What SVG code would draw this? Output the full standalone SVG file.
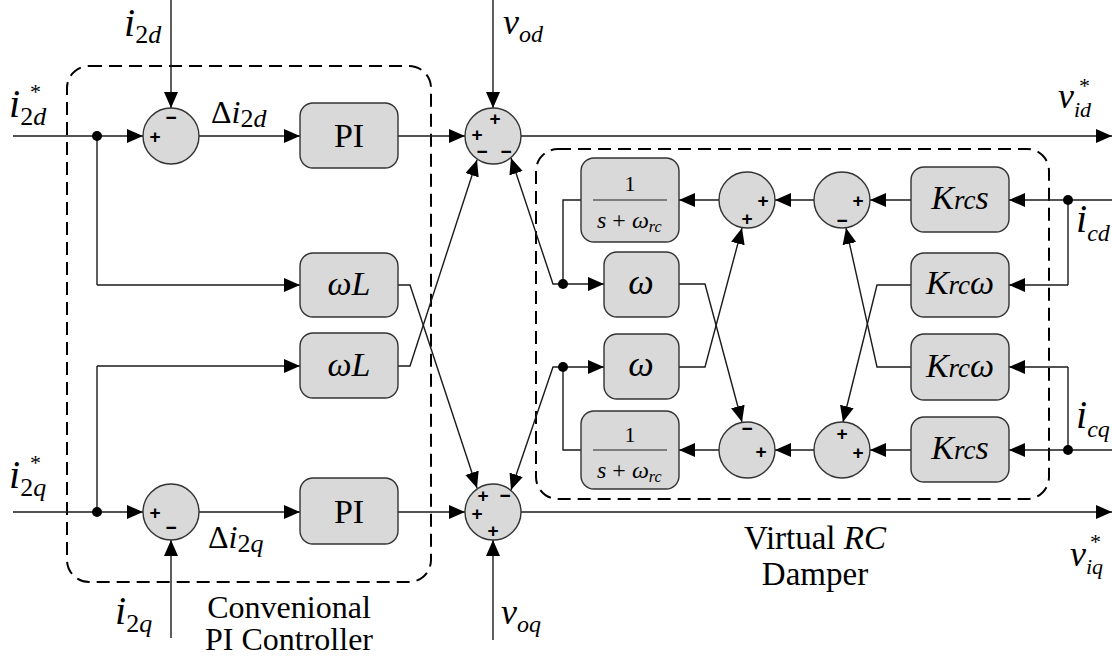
<svg xmlns="http://www.w3.org/2000/svg" width="1112" height="663" viewBox="0 0 1112 663">
<defs>
<marker id="ar" markerUnits="userSpaceOnUse" markerWidth="18" markerHeight="14" refX="16" refY="7" orient="auto">
<path d="M0,0 L16,7 L0,14 Z" fill="#000"/>
</marker>
</defs>

<!-- dashed grouping boxes -->
<g id="group-pi">
<rect x="67" y="66" width="364" height="516" rx="22" fill="none" stroke="#000" stroke-width="2" stroke-dasharray="13 7"/>
<text text-anchor="middle" x="289" y="618" font-family="Liberation Serif" style="font-family:'Liberation Serif',serif" font-size="32">Convenional</text>
<text text-anchor="middle" x="289" y="650" font-family="Liberation Serif" style="font-family:'Liberation Serif',serif" font-size="32">PI Controller</text>
</g>
<g id="group-rc">
<rect x="536" y="149" width="513" height="350" rx="22" fill="none" stroke="#000" stroke-width="2" stroke-dasharray="13 7"/>
<text text-anchor="middle" x="815" y="549" font-family="Liberation Serif" style="font-family:'Liberation Serif',serif" font-size="33">Virtual <tspan font-style="italic">RC</tspan></text>
<text text-anchor="middle" x="815" y="585" font-family="Liberation Serif" style="font-family:'Liberation Serif',serif" font-size="33">Damper</text>
</g>

<!-- connectors -->
<g id="connectors" fill="none" stroke="#1a1a1a" stroke-width="1.4">
<g marker-end="url(#ar)">
<path d="M13,136 H143"/>
<path d="M97,285 H300"/>
<path d="M171,0 V108"/>
<path d="M199,136 H300"/>
<path d="M398,136 H465"/>
<path d="M493,0 V108"/>
<path d="M521,136 H1112"/>
<path d="M13,512 H143"/>
<path d="M97,366 H300"/>
<path d="M171,638 V540"/>
<path d="M199,512 H300"/>
<path d="M398,512 H465"/>
<path d="M493,640 V540"/>
<path d="M521,512 H1112"/>
<path d="M398,285 H410 L477,488"/>
<path d="M398,366 H410 L477,160"/>
<path d="M563,284 H553 L511,158"/>
<path d="M563,367 H553 L511,490"/>
<path d="M1112,200 H1009"/>
<path d="M1068,285 H1009"/>
<path d="M911,200 H870"/>
<path d="M814,200 H775"/>
<path d="M719,200 H679"/>
<path d="M563,284 H604"/>
<path d="M1112,450 H1009"/>
<path d="M1068,367 H1009"/>
<path d="M911,450 H870"/>
<path d="M814,450 H775"/>
<path d="M719,450 H679"/>
<path d="M563,367 H604"/>
<path d="M679,284 H705 L742,422"/>
<path d="M679,367 H705 L742,228"/>
<path d="M911,285 H877 L843,422"/>
<path d="M911,367 H877 L846,228"/>
</g>
<path d="M97,136 V285"/>
<path d="M97,512 V366"/>
<path d="M1068,200 V285"/>
<path d="M581,200 H563 V284"/>
<path d="M1068,450 V367"/>
<path d="M581,450 H563 V367"/>
<g fill="#000" stroke="none">
<circle cx="97" cy="136" r="5"/>
<circle cx="97" cy="512" r="5"/>
<circle cx="563" cy="284" r="5"/>
<circle cx="563" cy="367" r="5"/>
<circle cx="1068" cy="200" r="5"/>
<circle cx="1068" cy="450" r="5"/>
</g>
</g>

<!-- summing junctions -->
<g font-family="Liberation Sans" style="font-family:'Liberation Sans',sans-serif" font-size="19" font-weight="bold" text-anchor="middle">
<g id="sum-l1"><circle cx="171" cy="136" r="28" fill="#d9d9d9" stroke="#333" stroke-width="1.4"/>
<text x="155" y="143">+</text><text x="171" y="124">−</text></g>
<g id="sum-l2"><circle cx="171" cy="512" r="28" fill="#d9d9d9" stroke="#333" stroke-width="1.4"/>
<text x="155" y="519">+</text><text x="171" y="534">−</text></g>
<g id="sum-d"><circle cx="493" cy="136" r="28" fill="#d9d9d9" stroke="#333" stroke-width="1.4"/>
<text x="495" y="125">+</text><text x="477" y="141">+</text>
<text x="482" y="158">−</text><text x="506" y="158">−</text></g>
<g id="sum-q"><circle cx="493" cy="512" r="28" fill="#d9d9d9" stroke="#333" stroke-width="1.4"/>
<text x="483" y="502">+</text><text x="505" y="502">−</text>
<text x="477" y="520">+</text><text x="493" y="537">+</text></g>
<g id="sum-r1"><circle cx="747" cy="200" r="28" fill="#d9d9d9" stroke="#333" stroke-width="1.4"/>
<text x="763" y="207">+</text><text x="747" y="225">+</text></g>
<g id="sum-r2"><circle cx="842" cy="200" r="28" fill="#d9d9d9" stroke="#333" stroke-width="1.4"/>
<text x="858" y="207">+</text><text x="842" y="227">−</text></g>
<g id="sum-r3"><circle cx="747" cy="450" r="28" fill="#d9d9d9" stroke="#333" stroke-width="1.4"/>
<text x="747" y="435">−</text><text x="761" y="458">+</text></g>
<g id="sum-r4"><circle cx="842" cy="450" r="28" fill="#d9d9d9" stroke="#333" stroke-width="1.4"/>
<text x="842" y="440">+</text><text x="858" y="459">+</text></g>
</g>

<!-- blocks -->
<g font-family="Liberation Serif" style="font-family:'Liberation Serif',serif">
<g id="pi-d"><rect x="300" y="103" width="98" height="65" rx="13" fill="#d9d9d9" stroke="#333" stroke-width="1.4"/>
<text text-anchor="middle" x="349" y="147" font-size="34" style="font-family:'Liberation Serif',serif">PI</text></g>
<g id="pi-q"><rect x="300" y="478" width="98" height="66" rx="13" fill="#d9d9d9" stroke="#333" stroke-width="1.4"/>
<text text-anchor="middle" x="349" y="523" font-size="34" style="font-family:'Liberation Serif',serif">PI</text></g>
<g id="wl-d"><rect x="300" y="253" width="98" height="64" rx="13" fill="#d9d9d9" stroke="#333" stroke-width="1.4"/>
<text text-anchor="middle" font-style="italic" x="349" y="295" font-size="34" style="font-family:'Liberation Serif',serif">ωL</text></g>
<g id="wl-q"><rect x="300" y="333" width="98" height="65" rx="13" fill="#d9d9d9" stroke="#333" stroke-width="1.4"/>
<text text-anchor="middle" font-style="italic" x="349" y="376" font-size="34" style="font-family:'Liberation Serif',serif">ωL</text></g>
<g id="lp-d"><rect x="581" y="158" width="98" height="84" rx="13" fill="#d9d9d9" stroke="#333" stroke-width="1.4"/>
<text text-anchor="middle" x="630" y="191" font-size="22" style="font-family:'Liberation Serif',serif">1</text>
<line x1="593" y1="200" x2="667" y2="200" stroke="#222" stroke-width="1.2"/>
<text font-style="italic" x="597" y="228" font-size="24" style="font-family:'Liberation Serif',serif">s<tspan font-style="normal"> + </tspan>ω<tspan font-size="16" dy="4">rc</tspan></text></g>
<g id="lp-q"><rect x="581" y="411" width="98" height="78" rx="13" fill="#d9d9d9" stroke="#333" stroke-width="1.4"/>
<text text-anchor="middle" x="630" y="442" font-size="22" style="font-family:'Liberation Serif',serif">1</text>
<line x1="593" y1="450" x2="667" y2="450" stroke="#222" stroke-width="1.2"/>
<text font-style="italic" x="597" y="478" font-size="24" style="font-family:'Liberation Serif',serif">s<tspan font-style="normal"> + </tspan>ω<tspan font-size="16" dy="4">rc</tspan></text></g>
<g id="w-d"><rect x="604" y="252" width="75" height="65" rx="13" fill="#d9d9d9" stroke="#333" stroke-width="1.4"/>
<text text-anchor="middle" font-style="italic" x="641" y="294" font-size="36" style="font-family:'Liberation Serif',serif">ω</text></g>
<g id="w-q"><rect x="604" y="334" width="75" height="65" rx="13" fill="#d9d9d9" stroke="#333" stroke-width="1.4"/>
<text text-anchor="middle" font-style="italic" x="641" y="376" font-size="36" style="font-family:'Liberation Serif',serif">ω</text></g>
<g id="krcs-d"><rect x="911" y="167" width="98" height="65" rx="13" fill="#d9d9d9" stroke="#333" stroke-width="1.4"/>
<text text-anchor="middle" font-style="italic" x="960" y="209" font-size="34" style="font-family:'Liberation Serif',serif">K<tspan font-size="27">rc</tspan>s</text></g>
<g id="krcw-d"><rect x="911" y="253" width="98" height="64" rx="13" fill="#d9d9d9" stroke="#333" stroke-width="1.4"/>
<text text-anchor="middle" font-style="italic" x="960" y="294" font-size="34" style="font-family:'Liberation Serif',serif">K<tspan font-size="27">rc</tspan>ω</text></g>
<g id="krcw-q"><rect x="911" y="334" width="98" height="66" rx="13" fill="#d9d9d9" stroke="#333" stroke-width="1.4"/>
<text text-anchor="middle" font-style="italic" x="960" y="377" font-size="34" style="font-family:'Liberation Serif',serif">K<tspan font-size="27">rc</tspan>ω</text></g>
<g id="krcs-q"><rect x="911" y="417" width="98" height="65" rx="13" fill="#d9d9d9" stroke="#333" stroke-width="1.4"/>
<text text-anchor="middle" font-style="italic" x="960" y="459" font-size="34" style="font-family:'Liberation Serif',serif">K<tspan font-size="27">rc</tspan>s</text></g>
</g>

<!-- signal labels -->
<g id="labels" font-family="Liberation Serif" style="font-family:'Liberation Serif',serif">
<text font-style="italic" x="124" y="36" font-size="40" style="font-family:'Liberation Serif',serif">i<tspan font-size="26" font-style="normal" dy="7">2</tspan><tspan font-size="26">d</tspan></text>
<text font-style="italic" x="9" y="117" font-size="40" style="font-family:'Liberation Serif',serif">i<tspan font-size="26" font-style="normal" dy="8">2</tspan><tspan font-size="26">d</tspan></text>
<text x="30" y="99" font-size="22" style="font-family:'Liberation Serif',serif">*</text>
<text font-style="italic" x="211" y="123" font-size="32" style="font-family:'Liberation Serif',serif"><tspan font-style="normal">Δ</tspan>i<tspan font-size="26" font-style="normal" dy="4">2</tspan><tspan font-size="26">d</tspan></text>
<text font-style="italic" x="503" y="34" font-size="36" style="font-family:'Liberation Serif',serif">v<tspan font-size="24" dy="8">od</tspan></text>
<text font-style="italic" x="1058" y="108" font-size="36" style="font-family:'Liberation Serif',serif">v<tspan font-size="22" dy="9">id</tspan></text>
<text x="1079" y="93" font-size="22" style="font-family:'Liberation Serif',serif">*</text>
<text font-style="italic" x="1076" y="232" font-size="40" style="font-family:'Liberation Serif',serif">i<tspan font-size="24" dy="9">cd</tspan></text>
<text font-style="italic" x="1076" y="428" font-size="40" style="font-family:'Liberation Serif',serif">i<tspan font-size="24" dy="9">cq</tspan></text>
<text font-style="italic" x="1070" y="566" font-size="36" style="font-family:'Liberation Serif',serif">v<tspan font-size="22" dy="8">iq</tspan></text>
<text x="1090" y="549" font-size="22" style="font-family:'Liberation Serif',serif">*</text>
<text font-style="italic" x="501" y="624" font-size="36" style="font-family:'Liberation Serif',serif">v<tspan font-size="24" dy="8">oq</tspan></text>
<text font-style="italic" x="115" y="624" font-size="40" style="font-family:'Liberation Serif',serif">i<tspan font-size="26" font-style="normal" dy="8">2</tspan><tspan font-size="26">q</tspan></text>
<text font-style="italic" x="9" y="488" font-size="40" style="font-family:'Liberation Serif',serif">i<tspan font-size="26" font-style="normal" dy="8">2</tspan><tspan font-size="26">q</tspan></text>
<text x="30" y="470" font-size="22" style="font-family:'Liberation Serif',serif">*</text>
<text font-style="italic" x="208" y="548" font-size="32" style="font-family:'Liberation Serif',serif"><tspan font-style="normal">Δ</tspan>i<tspan font-size="26" font-style="normal" dy="4">2</tspan><tspan font-size="26">q</tspan></text>
</g>
</svg>
